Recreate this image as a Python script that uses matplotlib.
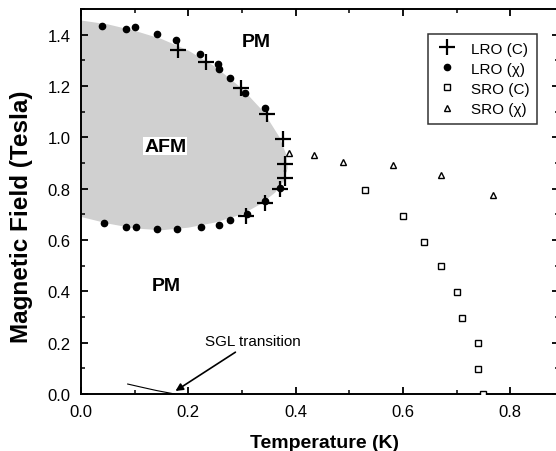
import numpy as np
import matplotlib
matplotlib.use('Agg')
import matplotlib.pyplot as plt
from matplotlib.ticker import MultipleLocator

plt.rcParams['font.family'] = ['Liberation Sans', 'DejaVu Sans']

# LRO from specific heat (crosses)
lro_c_T = [0.181, 0.233, 0.298, 0.346, 0.377, 0.380, 0.380, 0.370, 0.343, 0.308]
lro_c_H = [1.340, 1.293, 1.193, 1.092, 0.992, 0.895, 0.843, 0.798, 0.746, 0.694]

# LRO from susceptibility (dots)
lro_x_T = [0.040, 0.084, 0.101, 0.141, 0.177, 0.222, 0.256, 0.257, 0.278, 0.306, 0.343,
           0.042, 0.084, 0.103, 0.141, 0.178, 0.223, 0.257, 0.278, 0.309, 0.343, 0.371]
lro_x_H = [1.434, 1.420, 1.428, 1.403, 1.379, 1.323, 1.284, 1.265, 1.232, 1.174, 1.113,
           0.668, 0.649, 0.649, 0.642, 0.642, 0.649, 0.659, 0.678, 0.700, 0.750, 0.804]

# SRO from specific heat (squares)
sro_c_T = [0.529, 0.600, 0.639, 0.670, 0.700, 0.710, 0.740, 0.740, 0.750]
sro_c_H = [0.795, 0.694, 0.594, 0.497, 0.398, 0.298, 0.198, 0.097, 0.0]

# SRO from susceptibility (triangles)
sro_x_T = [0.388, 0.434, 0.489, 0.582, 0.670, 0.767]
sro_x_H = [0.938, 0.930, 0.904, 0.892, 0.853, 0.777]

# AFM region outline
afm_T = [0.0, 0.05, 0.1, 0.15, 0.2, 0.25, 0.3, 0.34, 0.37, 0.383, 0.385, 0.378,
         0.362, 0.335, 0.3, 0.25, 0.2, 0.15, 0.1, 0.05, 0.0]
afm_H = [1.455, 1.44, 1.415, 1.383, 1.338, 1.275, 1.19, 1.10, 1.0, 0.93, 0.88, 0.83,
         0.785, 0.74, 0.70, 0.668, 0.648, 0.638, 0.645, 0.664, 0.69]

# spin glass line
sgl_T = [0.087, 0.11, 0.14, 0.175]
sgl_H = [0.039, 0.028, 0.014, 0.0]

fig = plt.figure(figsize=(5.56, 4.52), dpi=100)
ax = fig.add_axes([0.1457, 0.126, 0.859, 0.852])

ax.fill(afm_T, afm_H, color='#d0d0d0', lw=0, zorder=1)
ax.plot(sgl_T, sgl_H, color='black', lw=0.8)

ax.plot(lro_c_T, lro_c_H, '+', color='black', ms=11, mew=1.6, label='LRO (C)', zorder=3)
ax.plot(lro_x_T, lro_x_H, 'o', color='black', ms=4.5, label='LRO (χ)', zorder=3)
ax.plot(sro_c_T, sro_c_H, 's', mfc='white', mec='black', ms=4.5, mew=1, label='SRO (C)', zorder=3)
ax.plot(sro_x_T, sro_x_H, '^', mfc='white', mec='black', ms=5, mew=1, label='SRO (χ)', zorder=3)

ax.text(0.327, 1.375, 'PM', fontsize=14, fontweight='bold', ha='center', va='center')
ax.text(0.158, 0.421, 'PM', fontsize=14, fontweight='bold', ha='center', va='center')
ax.text(0.157, 0.966, 'AFM', fontsize=14, fontweight='bold', ha='center', va='center',
        bbox=dict(facecolor='white', edgecolor='none', pad=0.5))
ax.annotate('SGL transition', xy=(0.176, 0.012), xytext=(0.231, 0.207),
            fontsize=11, va='center', ha='left',
            arrowprops=dict(arrowstyle='-|>', color='black', lw=1.2, shrinkA=2, shrinkB=0,
                            mutation_scale=11))

ax.set_xlim(0, 0.89)
ax.set_ylim(0, 1.5)
ax.xaxis.set_minor_locator(MultipleLocator(0.1))
ax.yaxis.set_minor_locator(MultipleLocator(0.1))
ax.set_xticks([0.0, 0.2, 0.4, 0.6, 0.8])
ax.set_xticklabels(['0.0', '0.2', '0.4', '0.6', '0.8'])
ax.set_yticks([0.0, 0.2, 0.4, 0.6, 0.8, 1.0, 1.2, 1.4])
ax.set_yticklabels(['0.0', '0.2', '0.4', '0.6', '0.8', '1.0', '1.2', '1.4'])
ax.tick_params(which='both', direction='in', top=True, right=True, labelsize=12, pad=7.5)
ax.tick_params(which='major', length=5, width=1.3)
ax.tick_params(which='minor', length=3, width=1.1)
for s in ax.spines.values():
    s.set_linewidth(1.4)

ax.set_xlabel('Temperature (K)', fontsize=14, fontweight='bold')
ax.set_ylabel('Magnetic Field (Tesla)', fontsize=17.5, fontweight='bold')
ax.xaxis.set_label_coords(0.51, -0.125)
ax.xaxis.label.set_va('center')
ax.yaxis.set_label_coords(-0.124, 0.464)
ax.yaxis.label.set_va('center')

leg = ax.legend(loc='upper right', bbox_to_anchor=(0.955, 0.935), borderaxespad=0,
                fontsize=11, frameon=True, fancybox=False, edgecolor='black',
                handlelength=1.5, handletextpad=0.8, borderpad=0.5, labelspacing=0.4)
leg.get_frame().set_linewidth(1.1)

fig.savefig('out.png', dpi=100)
